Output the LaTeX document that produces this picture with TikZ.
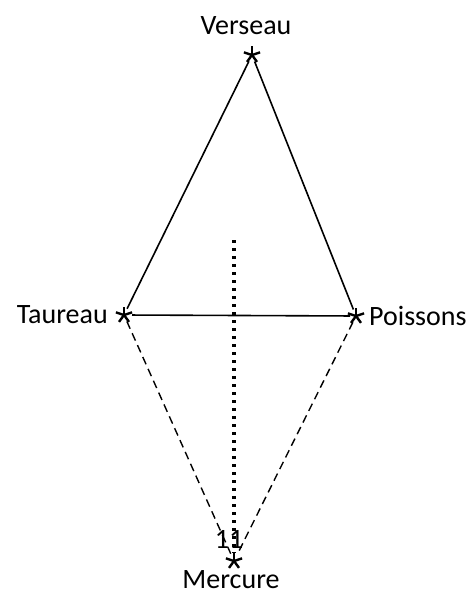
\documentclass[tikz,border=0pt]{standalone}
\usepackage{fontspec}
\setmainfont{Carlito}
\tikzset{
  lbl/.style={inner sep=0pt, font=\fontsize{28bp}{33bp}\selectfont},
  ast/.pic={\foreach \a in {90,18,162,-54,234} \draw[line width=2.4bp, line cap=butt] (0,0) -- (\a:8.5bp);},
  solidline/.style={line width=1.6bp},
  dashline/.style={line width=1.4bp, dash pattern=on 8bp off 5bp},
  dotline/.style={line width=3.2bp, dash pattern=on 3bp off 5bp}
}
\begin{document}
\begin{tikzpicture}[x=1bp,y=-1bp]
\useasboundingbox (0,0) rectangle (473,591);
\coordinate (V) at (252,55);
\coordinate (T) at (124,315);
\coordinate (P) at (356,316);
\coordinate (M) at (234,561);
\coordinate (D) at (234,240);
\coordinate (Dend) at (234,553);
\pic at (V) {ast};
\pic at (T) {ast};
\pic at (P) {ast};
\pic at (M) {ast};
\node[lbl, anchor=base] (vl) at (246,35) {Verseau};
\node[lbl, anchor=base east] (tl) at (108,323) {Taureau};
\node[lbl, anchor=base west] (pl) at (369,325) {Poissons};
\node[lbl, anchor=base] (ml) at (231,588) {Mercure};
\node[lbl, anchor=base] (n11) at (229,548) {11};
\draw[solidline, shorten <=7bp, shorten >=7bp] (V) -- (T);
\draw[solidline, shorten <=7bp, shorten >=7bp] (V) -- (P);
\draw[solidline, shorten <=8bp, shorten >=6bp] (T) -- (P);
\draw[dashline, shorten <=7bp, shorten >=8bp] (T) -- (M);
\draw[dashline, shorten <=7bp, shorten >=8bp] (P) -- (M);
\draw[dotline] (D) -- (Dend);
\end{tikzpicture}
\end{document}
